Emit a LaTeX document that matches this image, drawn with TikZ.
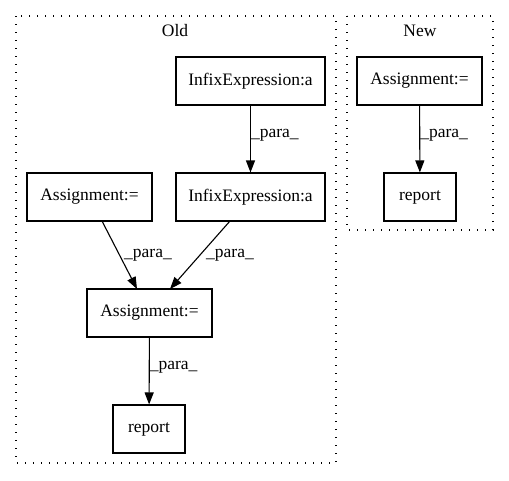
\documentclass[tikz,border=0pt]{standalone}
\usepackage{fontspec}
\setmainfont{Liberation Serif}
\usetikzlibrary{arrows.meta}
\begin{document}
\begin{tikzpicture}[x=1pt,y=-1pt,
  box/.style={draw,line width=1.1pt,minimum height=48pt,inner sep=0pt,font=\fontsize{17.5}{20}\selectfont},
  cluster/.style={draw,line width=1.2pt,dash pattern=on 1.3pt off 6.7pt},
  lab/.style={font=\fontsize{17.5}{20}\selectfont,inner sep=0pt},
  edge/.style={draw,line width=1.1pt,-{Triangle[length=12pt,width=9pt]}}]
\useasboundingbox (0,0) rectangle (509,480);
\draw[cluster] (16,16) rectangle (336,463);
\draw[cluster] (347,16) rectangle (493,230);
\node[lab] (old) at (175,31) {Old};
\node[lab] (new) at (420,31) {New};
\node[box,minimum width=149pt] (i1) at (250.5,81) {InfixExpression:a};
\node[box,minimum width=149pt] (i2) at (250.5,197) {InfixExpression:a};
\node[box,minimum width=125pt] (a1) at (89.5,197) {Assignment:=};
\node[box,minimum width=125pt] (a2) at (149.5,313) {Assignment:=};
\node[box,minimum width=72pt] (r1) at (149,429) {report};
\node[box,minimum width=125pt] (na) at (419.5,81) {Assignment:=};
\node[box,minimum width=72pt] (nr) at (420,197) {report};
\draw[edge] (i1) -- (i2) node[lab,pos=0.45,right=0pt] {\_para\_};
\draw[edge] (na) -- (nr) node[lab,pos=0.45,right=0pt] {\_para\_};
\draw[edge] (a2) -- (r1) node[lab,pos=0.45,right=0pt] {\_para\_};
\draw[edge] (102,221) -- (137,289);
\draw[edge] (230,221) -- (170,289);
\node[lab] (p1) at (148,255) {\_para\_};
\node[lab] (p2) at (230,255) {\_para\_};
\end{tikzpicture}
\end{document}
